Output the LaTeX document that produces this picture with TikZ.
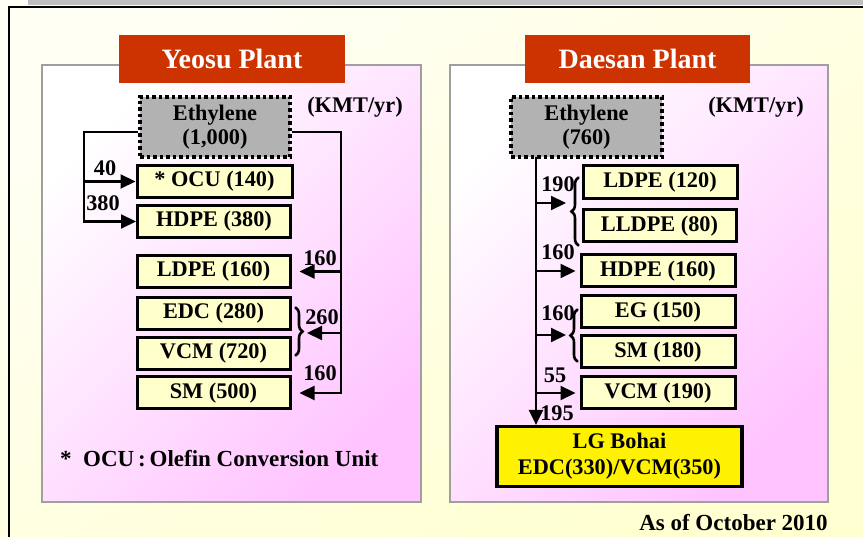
\documentclass[tikz,border=0pt]{standalone}
\usepackage{fontspec}
\setmainfont{Liberation Serif}
\usetikzlibrary{arrows.meta,positioning,decorations.pathreplacing}

\definecolor{titlered}{HTML}{CC3300}
\definecolor{boxyellow}{HTML}{FFFFCC}
\definecolor{panelpink}{HTML}{FFC4FF}
\definecolor{paperlight}{HTML}{FFFFF4}
\definecolor{paperdark}{HTML}{FFFFD2}
\definecolor{ethgray}{HTML}{B2B2B2}

\begin{document}
\begin{tikzpicture}[
  x=1pt, y=-1pt,
  font=\bfseries\fontsize{22.3}{24}\selectfont,
  title/.style={fill=titlered,text=white,font=\bfseries\fontsize{28}{30}\selectfont,minimum width=226pt,minimum height=48pt,inner sep=0pt},
  panel/.style={draw=gray!75,line width=1.2pt,top color=white,bottom color=panelpink,shading angle=45},
  ethbox/.style={draw,fill=ethgray,line width=3.5pt,dash pattern=on 3.5pt off 3pt,minimum width=150pt,minimum height=60pt,align=center,inner sep=0pt},
  prod/.style={draw,fill=boxyellow,line width=3pt,minimum width=153pt,minimum height=32pt,inner sep=0pt},
  bohai/.style={draw,fill=yellow,line width=3.2pt,minimum width=245pt,minimum height=60pt,align=center,inner sep=0pt,font=\bfseries\fontsize{22.3}{26}\selectfont},
  qty/.style={inner sep=0pt},
  flow/.style={line width=2.2pt,-{Triangle[length=15pt,width=14pt]}},
  brc/.style={line width=2.6pt,line cap=round,decorate,decoration={brace,amplitude=7pt}}
]
\useasboundingbox (0,0) rectangle (863,537);
% page background and frame
\shade[top color=paperlight,bottom color=paperdark,shading angle=30] (0,0) rectangle (863,537);
\fill[gray!50] (28,0) rectangle (863,5);
\draw[line width=2.5pt] (9,537) -- (9,7) -- (863,7);

% Yeosu
\draw[panel] (42,65) rectangle (421,502);
\node[title] (yt) at (232,59) {Yeosu Plant};
\node[ethbox] (ey) at (215,127) {Ethylene\\(1,000)};
\node[qty] (kmt1) at (355,107) {(KMT/yr)};
\node[prod,minimum width=155pt] (ocu) at (214.5,181.5) {* OCU (140)};
\node[prod] (hdpe1) at (214,221.5) {HDPE (380)};
\node[prod] (ldpe1) at (213.5,271.5) {LDPE (160)};
\node[prod] (edc1) at (213.5,313.5) {EDC (280)};
\node[prod] (vcm1) at (213.5,353.5) {VCM (720)};
\node[prod] (sm1) at (213.5,393) {SM (500)};

\coordinate (lt) at (84,132);
\coordinate (rt) at (341,132);
\coordinate (b1) at (307,333);
\draw[flow] ([yshift=-5pt]ey.west) -- (lt) |- (hdpe1.west);
\draw[flow] (lt |- ocu) -- (ocu.west);
\draw[flow] ([yshift=-5pt]ey.east) -- (rt) |- ([xshift=8pt]sm1.east);
\draw[flow] (rt |- ldpe1) -- ([xshift=8pt]ldpe1.east);
\draw[brc] ([xshift=4pt,yshift=6pt]edc1.east) -- ([xshift=4pt,yshift=-2pt]vcm1.east);
\draw[flow] (rt |- b1) -- (b1);

\node[qty] (q40) at (105,168) {40};
\node[qty] (q380) at (103,203) {380};
\node[qty] (q160a) at (320,258) {160};
\node[qty] (q260) at (322,317) {260};
\node[qty] (q160b) at (320,373) {160};
\node[qty,anchor=west,font=\bfseries\fontsize{23}{24}\selectfont] (note) at (60,459) {*~~OCU\,:\,Olefin Conversion Unit};

% Daesan
\draw[panel] (450,65) rectangle (828,502);
\node[title,minimum width=225pt] (dt) at (637.5,59) {Daesan Plant};
\node[ethbox,minimum width=151pt] (ed) at (586.5,127) {Ethylene\\(760)};
\node[qty] (kmt2) at (756,107) {(KMT/yr)};
\node[prod,minimum width=154pt,minimum height=33pt] (ldpe2) at (660,182.5) {LDPE (120)};
\node[prod] (lldpe2) at (659.5,226) {LLDPE (80)};
\node[prod,minimum width=154pt] (hdpe2) at (658,271) {HDPE (160)};
\node[prod,minimum width=154pt] (eg2) at (658,312) {EG (150)};
\node[prod,minimum width=154pt] (sm2) at (658,352) {SM (180)};
\node[prod,minimum width=154pt] (vcm2) at (658,393) {VCM (190)};
\node[bohai] (lg) at (619.5,456.5) {LG Bohai\\EDC(330)/VCM(350)};

\coordinate (tk) at (536,157);
\coordinate (b2) at (566,203);
\coordinate (b3) at (566,335);
\draw[flow] (tk) -- (tk |- lg.north);
\draw[brc] ([xshift=-3pt,yshift=-2pt]lldpe2.west |- lldpe2.south) -- ([xshift=-3pt,yshift=-13pt]ldpe2.north west);
\draw[flow] (tk |- b2) -- (b2);
\draw[flow] (tk |- hdpe2) -- ([xshift=-4pt]hdpe2.west);
\draw[brc] ([xshift=-2pt,yshift=8pt]sm2.south west) -- ([xshift=-2pt,yshift=-15pt]eg2.north west);
\draw[flow] (tk |- b3) -- (b3);
\draw[flow] (tk |- vcm2) -- ([xshift=-4pt]vcm2.west);

\node[qty] (q190) at (558,184) {190};
\node[qty] (q160c) at (558,252) {160};
\node[qty] (q160d) at (558,313) {160};
\node[qty] (q55) at (555,375) {55};
\node[qty] (q195) at (557,413) {195};

\node[qty,font=\bfseries\fontsize{23}{24}\selectfont] (asof) at (733.5,523) {As of October 2010};
\end{tikzpicture}
\end{document}
